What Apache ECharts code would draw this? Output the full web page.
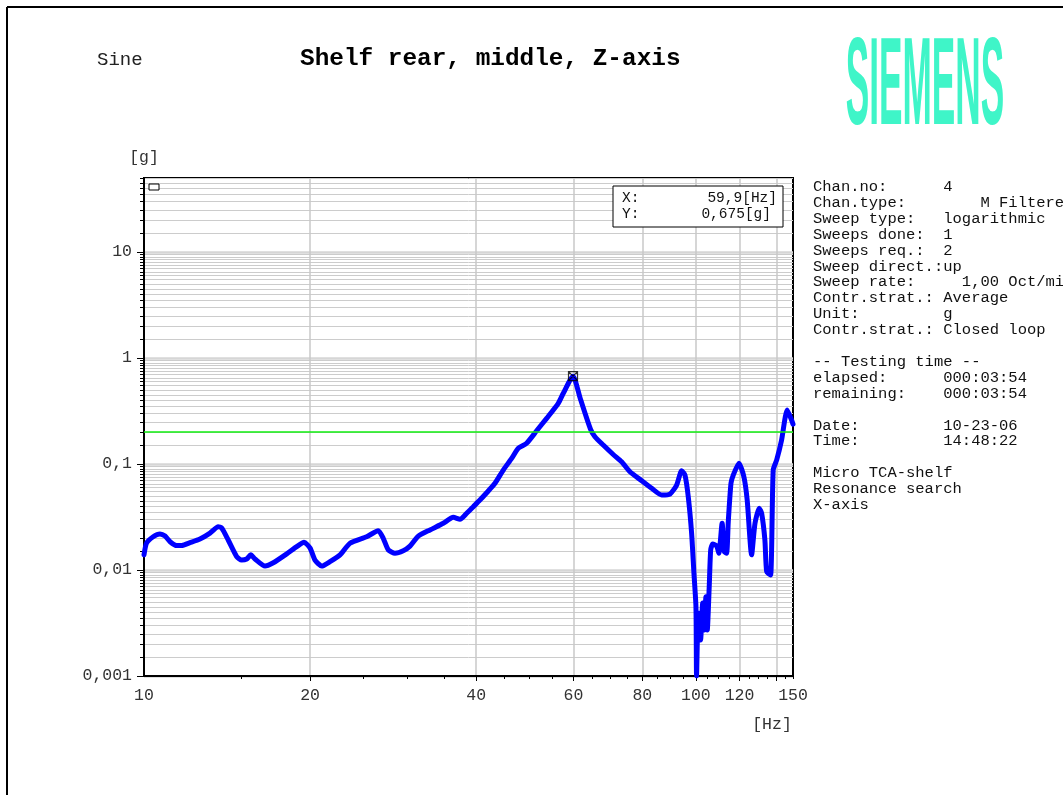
<!DOCTYPE html>
<html><head><meta charset="utf-8">
<script src="https://cdn.jsdelivr.net/npm/echarts@6/dist/echarts.min.js"></script>
<style>html,body{margin:0;padding:0;background:#fff;}#c{width:1063px;height:795px;}</style>
</head><body><div id="c"></div>
<script>
// ---- data (frequency in Hz, acceleration in g) ----
const freqHz = [10.0, 10.11, 10.39, 10.69, 10.92, 11.15, 11.46, 11.70, 12.12, 12.63, 13.17, 13.63, 13.83, 14.21, 14.72, 15.03, 15.35, 15.61, 15.89, 16.57, 17.15, 18.14, 18.91, 19.50, 20.00, 20.41, 20.99, 21.73, 22.66, 23.62, 25.32, 26.58, 27.14, 27.71, 28.50, 29.50, 30.34, 31.41, 32.98, 34.86, 36.35, 37.38, 38.44, 39.52, 40.62, 41.78, 43.25, 44.78, 46.37, 47.67, 49.36, 51.47, 53.66, 56.33, 57.52, 59.9, 61.7, 64.4, 65.64, 67.95, 70.85, 73.38, 75.96, 79.77, 83.17, 86.71, 89.77, 92.31, 94.26, 95.57, 96.89, 98.26, 99.21, 100.05, 100.3, 101.0, 102.0, 102.9, 103.6, 104.3, 104.9, 105.75, 106.4, 107.3, 109.1, 110.1, 111.6, 112.6, 113.7, 114.5, 115.8, 116.9, 119.7, 122.2, 123.9, 126.2, 128.0, 130.3, 131.6, 133.4, 134.4, 136.6, 138.1, 140.1, 143.0, 146.4, 149.1, 150.0];
const accelG = [0.0139, 0.0180, 0.0206, 0.0219, 0.0209, 0.0185, 0.0170, 0.0170, 0.0181, 0.0196, 0.0223, 0.0256, 0.0249, 0.0192, 0.0134, 0.0124, 0.0127, 0.0139, 0.0127, 0.0109, 0.0117, 0.0142, 0.0166, 0.0183, 0.0161, 0.0124, 0.0109, 0.0120, 0.0139, 0.0179, 0.0206, 0.0235, 0.0199, 0.0155, 0.0144, 0.0152, 0.0168, 0.0209, 0.0239, 0.0276, 0.0314, 0.0301, 0.0343, 0.0396, 0.0457, 0.0536, 0.0658, 0.0878, 0.113, 0.141, 0.157, 0.206, 0.270, 0.374, 0.465, 0.675, 0.420, 0.215, 0.181, 0.151, 0.123, 0.105, 0.0846, 0.0696, 0.0590, 0.0510, 0.0521, 0.0634, 0.0865, 0.0787, 0.0491, 0.0222, 0.00937, 0.00451, 0.00100, 0.00393, 0.00219, 0.00488, 0.00272, 0.00560, 0.00272, 0.00696, 0.0155, 0.0176, 0.0168, 0.0144, 0.0276, 0.0149, 0.0144, 0.0286, 0.0658, 0.0787, 0.102, 0.0759, 0.0457, 0.0139, 0.0276, 0.0382, 0.0343, 0.0192, 0.00964, 0.00897, 0.0878, 0.109, 0.168, 0.323, 0.260, 0.238];

const xLabelValues = [10, 20, 40, 60, 80, 100, 120, 150];
const xGridValues = [20, 40, 60, 80, 100, 120, 140];
const xTickValues = [15, 20, 25, 30, 35, 40, 45, 50, 55, 60, 65, 70, 75, 80, 85, 90, 95, 100, 105, 110, 115, 120, 125, 130, 135, 140, 145, 150];
const yDecades = [0.001, 0.01, 0.1, 1, 10];
const yDecadeLabels = ['0,001', '0,01', '0,1', '1', '10'];
const yGridMultipliers = [1, 1.5, 2, 2.5, 3, 3.5, 4, 4.5, 5, 5.5, 6, 6.5, 7, 7.5, 8, 8.5, 9, 9.5];
const yMin = 0.001, yMax = 50;
const xMin = 10, xMax = 150;
const limitLevel = [0.2];
const cursorX = [59.9];
const cursorY = [0.675];
const cursorText = ['59,9[Hz]', '0,675[g]'];
const infoLines = [
  'Chan.no:      4',
  'Chan.type:        M Filtered',
  'Sweep type:   logarithmic',
  'Sweeps done:  1',
  'Sweeps req.:  2',
  'Sweep direct.:up',
  'Sweep rate:     1,00 Oct/min',
  'Contr.strat.: Average',
  'Unit:         g',
  'Contr.strat.: Closed loop',
  '',
  '-- Testing time --',
  'elapsed:      000:03:54',
  'remaining:    000:03:54',
  '',
  'Date:         10-23-06',
  'Time:         14:48:22',
  '',
  'Micro TCA-shelf',
  'Resonance search',
  'X-axis'
];

const yGridValues = [];
yDecades.forEach(d => yGridMultipliers.forEach(m => { const v = +(d * m).toPrecision(6); if (v <= yMax) yGridValues.push(v); }));

const MONO = '"Liberation Mono", "Courier New", monospace';
const chart = echarts.init(document.getElementById('c'), null, {renderer: 'canvas'});

const yFmt = v => { const i = yDecades.findIndex(d => Math.abs(d - v) / d < 1e-6); return i >= 0 ? yDecadeLabels[i] : ''; };

chart.setOption({
  animation: false,
  backgroundColor: '#fff',
  grid: {left: 144, top: 178, width: 649, height: 498, show: true, borderColor: '#000', borderWidth: 2, backgroundColor: 'transparent'},
  xAxis: [
    {type: 'log', logBase: 10, min: xMin, max: xMax, position: 'bottom',
     axisLine: {show: true, onZero: false, lineStyle: {color: '#000', width: 2}},
     axisTick: {show: true, customValues: xTickValues, length: 3, lineStyle: {color: '#000', width: 1}},
     axisLabel: {customValues: xLabelValues, margin: 11, color: '#333', fontFamily: MONO, fontSize: 16.5},
     splitLine: {show: false}},
    {type: 'log', logBase: 10, min: xMin, max: xMax, position: 'bottom',
     axisLine: {show: false},
     axisTick: {show: true, customValues: xGridValues, length: 5, lineStyle: {color: '#000', width: 1}},
     axisLabel: {show: false},
     splitLine: {show: true, lineStyle: {color: '#c8c8c8', width: 1.5}}}
  ],
  yAxis: [
    {type: 'log', logBase: 10, min: yMin, max: yMax, position: 'left',
     name: '[g]', nameLocation: 'end', nameGap: 12,
     nameTextStyle: {color: '#333', fontFamily: MONO, fontSize: 16.5, align: 'center'},
     axisLine: {show: true, onZero: false, lineStyle: {color: '#000', width: 2}},
     axisTick: {show: true, customValues: yGridValues, length: 4, lineStyle: {color: '#000', width: 1}},
     axisLabel: {customValues: yDecades, formatter: yFmt, margin: 12, color: '#333', fontFamily: MONO, fontSize: 16.5},
     splitLine: {show: true, lineStyle: {color: '#cccccc', width: 1}}},
    {type: 'log', logBase: 10, min: yMin, max: yMax, position: 'left',
     axisLine: {show: false},
     axisTick: {show: true, customValues: yDecades, length: 7, lineStyle: {color: '#000', width: 1}},
     axisLabel: {show: false},
     splitLine: {show: true, lineStyle: {color: '#d6d6d6', width: 2.5}}}
  ],
  series: [
    {type: 'line', xAxisIndex: 0, yAxisIndex: 0, data: [], z: 1, silent: true,
     markLine: {silent: true, symbol: ['none', 'none'], label: {show: false},
       lineStyle: {color: '#11ee11', width: 1.6, type: 'solid'},
       data: limitLevel.map(v => ({yAxis: v}))}},
    {type: 'line', xAxisIndex: 0, yAxisIndex: 0, z: 2,
     data: freqHz.map((f, i) => [f, accelG[i]]),
     showSymbol: false, symbol: 'none', smooth: 0.2,
     lineStyle: {color: '#0000ff', width: 5, join: 'round', cap: 'round'}},
    {type: 'scatter', xAxisIndex: 0, yAxisIndex: 0, z: 3,
     data: cursorX.map((x, i) => [x, cursorY[i]]),
     symbol: 'path://M0 0H10V10H0Z M0 0L10 10 M10 0L0 10', symbolSize: 9,
     itemStyle: {color: 'rgba(0,0,0,0)', borderColor: '#000', borderWidth: 1.2}}
  ],
  graphic: [
    {type: 'line', z: 100, shape: {x1: 7, y1: 7, x2: 1063, y2: 7}, style: {stroke: '#000', lineWidth: 2}},
    {type: 'line', z: 100, shape: {x1: 7, y1: 7, x2: 7, y2: 795}, style: {stroke: '#000', lineWidth: 2}},
    {type: 'text', z: 100, x: 97, y: 60, style: {text: 'Sine', font: '19px ' + MONO, fill: '#222', verticalAlign: 'middle'}},
    {type: 'text', z: 100, x: 300, y: 59, style: {text: 'Shelf rear, middle, Z-axis', font: 'bold 24.4px ' + MONO, fill: '#000', verticalAlign: 'middle'}},
    {type: 'text', z: 100, x: 925, y: 90, scaleX: 0.88, scaleY: 3.1,
     style: {text: 'SIEMENS', font: 'bold 40px "Liberation Sans", Arial, sans-serif', fill: '#3ff5c8', align: 'center', verticalAlign: 'middle'}},
    {type: 'text', z: 100, x: 813, y: 179, style: {text: infoLines.join('\n'), font: '15.5px ' + MONO, lineHeight: 15.9, fill: '#111', verticalAlign: 'top'}},
    {type: 'rect', z: 100, shape: {x: 613, y: 186, width: 170, height: 41}, style: {fill: '#fff', stroke: '#000', lineWidth: 1}},
    {type: 'text', z: 101, x: 622, y: 198, style: {text: 'X:', font: '14.5px ' + MONO, fill: '#111', verticalAlign: 'middle'}},
    {type: 'text', z: 101, x: 622, y: 214, style: {text: 'Y:', font: '14.5px ' + MONO, fill: '#111', verticalAlign: 'middle'}},
    {type: 'text', z: 101, x: 777, y: 198, style: {text: cursorText[0], font: '14.5px ' + MONO, fill: '#111', align: 'right', verticalAlign: 'middle'}},
    {type: 'text', z: 101, x: 771, y: 214, style: {text: cursorText[1], font: '14.5px ' + MONO, fill: '#111', align: 'right', verticalAlign: 'middle'}},
    {type: 'rect', z: 100, shape: {x: 149, y: 184, width: 10, height: 6}, style: {fill: '#fff', stroke: '#000', lineWidth: 1}},
    {type: 'text', z: 100, x: 772, y: 725, style: {text: '[Hz]', font: '16.5px ' + MONO, fill: '#333', align: 'center', verticalAlign: 'middle'}}
  ]
});
</script></body></html>
